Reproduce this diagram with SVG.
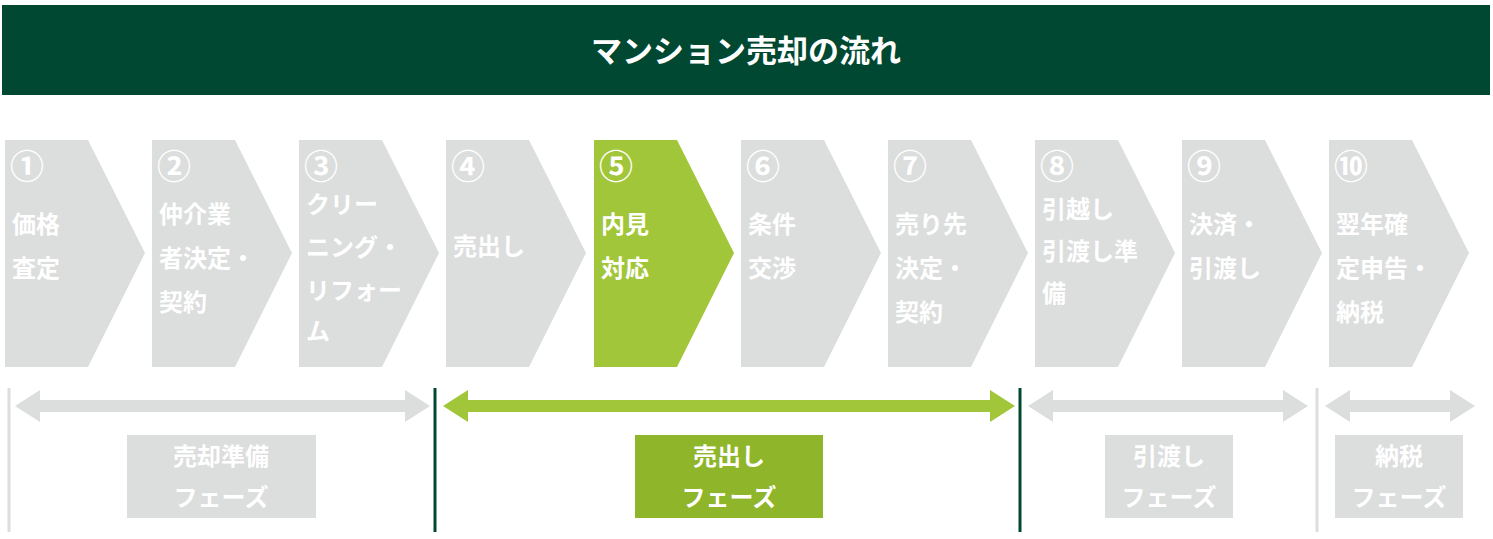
<svg xmlns="http://www.w3.org/2000/svg" width="1493" height="539" viewBox="0 0 1493 539">
<defs>
<style>
.t{font-family:"Noto Sans CJK JP","Noto Sans",sans-serif;font-weight:bold;fill:#fff}
.n{font-size:24px}
.c{font-size:34px}
.g{fill:#dcdddd}
.a{fill:#a2c639}
</style>
<polygon id="chev" points="0,0 83,0 140,113 83,227 0,227"/>
</defs>
<rect x="2" y="5" width="1488" height="90" fill="#004831"/>
<text class="t" x="746" y="62" font-size="31" text-anchor="middle">マンション売却の流れ</text>
<g id="n1"><use href="#chev" x="5" y="140" class="g"/><text class="t c" x="10" y="179">①</text><text class="t n" x="12" y="233">価格</text><text class="t n" x="12" y="277">査定</text></g>
<g id="n2"><use href="#chev" x="152" y="140" class="g"/><text class="t c" x="157" y="179">②</text><text class="t n" x="159" y="223">仲介業</text><text class="t n" x="159" y="267">者決定・</text><text class="t n" x="159" y="311">契約</text></g>
<g id="n3"><use href="#chev" x="299" y="140" class="g"/><text class="t c" x="304" y="179">③</text><text class="t n" x="306" y="213">クリー</text><text class="t n" x="306" y="256">ニング・</text><text class="t n" x="306" y="299">リフォー</text><text class="t n" x="306" y="340">ム</text></g>
<g id="n4"><use href="#chev" x="446" y="140" class="g"/><text class="t c" x="451" y="179">④</text><text class="t n" x="453" y="255">売出し</text></g>
<g id="n5"><use href="#chev" x="594" y="140" class="a"/><text class="t c" x="599" y="179">⑤</text><text class="t n" x="601" y="233">内見</text><text class="t n" x="601" y="277">対応</text></g>
<g id="n6"><use href="#chev" x="741" y="140" class="g"/><text class="t c" x="746" y="179">⑥</text><text class="t n" x="748" y="233">条件</text><text class="t n" x="748" y="277">交渉</text></g>
<g id="n7"><use href="#chev" x="888" y="140" class="g"/><text class="t c" x="893" y="179">⑦</text><text class="t n" x="895" y="233">売り先</text><text class="t n" x="895" y="277">決定・</text><text class="t n" x="895" y="321">契約</text></g>
<g id="n8"><use href="#chev" x="1035" y="140" class="g"/><text class="t c" x="1040" y="179">⑧</text><text class="t n" x="1042" y="218">引越し</text><text class="t n" x="1042" y="260">引渡し準</text><text class="t n" x="1042" y="302">備</text></g>
<g id="n9"><use href="#chev" x="1182" y="140" class="g"/><text class="t c" x="1187" y="179">⑨</text><text class="t n" x="1189" y="233">決済・</text><text class="t n" x="1189" y="277">引渡し</text></g>
<g id="n10"><use href="#chev" x="1329" y="140" class="g"/><text class="t c" x="1334" y="179">⑩</text><text class="t n" x="1336" y="233">翌年確</text><text class="t n" x="1336" y="277">定申告・</text><text class="t n" x="1336" y="321">納税</text></g>
<g id="connectors">
<line x1="9" y1="388" x2="9" y2="532" stroke="#dcdddd" stroke-width="3"/>
<line x1="435" y1="388" x2="435" y2="532" stroke="#004831" stroke-width="3"/>
<line x1="1020" y1="388" x2="1020" y2="532" stroke="#004831" stroke-width="3"/>
<line x1="1317" y1="388" x2="1317" y2="532" stroke="#dcdddd" stroke-width="3"/>
<polygon class="g" points="15,406 40,390 40,400 405,400 405,390 430,406 405,422 405,412 40,412 40,422"/>
<polygon class="a" points="443,406 468,390 468,400 990,400 990,390 1015,406 990,422 990,412 468,412 468,422"/>
<polygon class="g" points="1028,406 1053,390 1053,400 1283,400 1283,390 1308,406 1283,422 1283,412 1053,412 1053,422"/>
<polygon class="g" points="1325,406 1350,390 1350,400 1450,400 1450,390 1475,406 1450,422 1450,412 1350,412 1350,422"/>
</g>
<g id="p1"><rect x="127" y="435" width="189" height="83" class="g"/><text class="t n" x="221" y="465" text-anchor="middle">売却準備</text><text class="t n" x="221" y="506" text-anchor="middle">フェーズ</text></g>
<g id="p2"><rect x="635" y="435" width="188" height="83" fill="#8fb52a"/><text class="t n" x="729" y="465" text-anchor="middle">売出し</text><text class="t n" x="729" y="506" text-anchor="middle">フェーズ</text></g>
<g id="p3"><rect x="1105" y="435" width="128" height="83" class="g"/><text class="t n" x="1169" y="465" text-anchor="middle">引渡し</text><text class="t n" x="1169" y="506" text-anchor="middle">フェーズ</text></g>
<g id="p4"><rect x="1335" y="435" width="128" height="83" class="g"/><text class="t n" x="1399" y="465" text-anchor="middle">納税</text><text class="t n" x="1399" y="506" text-anchor="middle">フェーズ</text></g>
</svg>
